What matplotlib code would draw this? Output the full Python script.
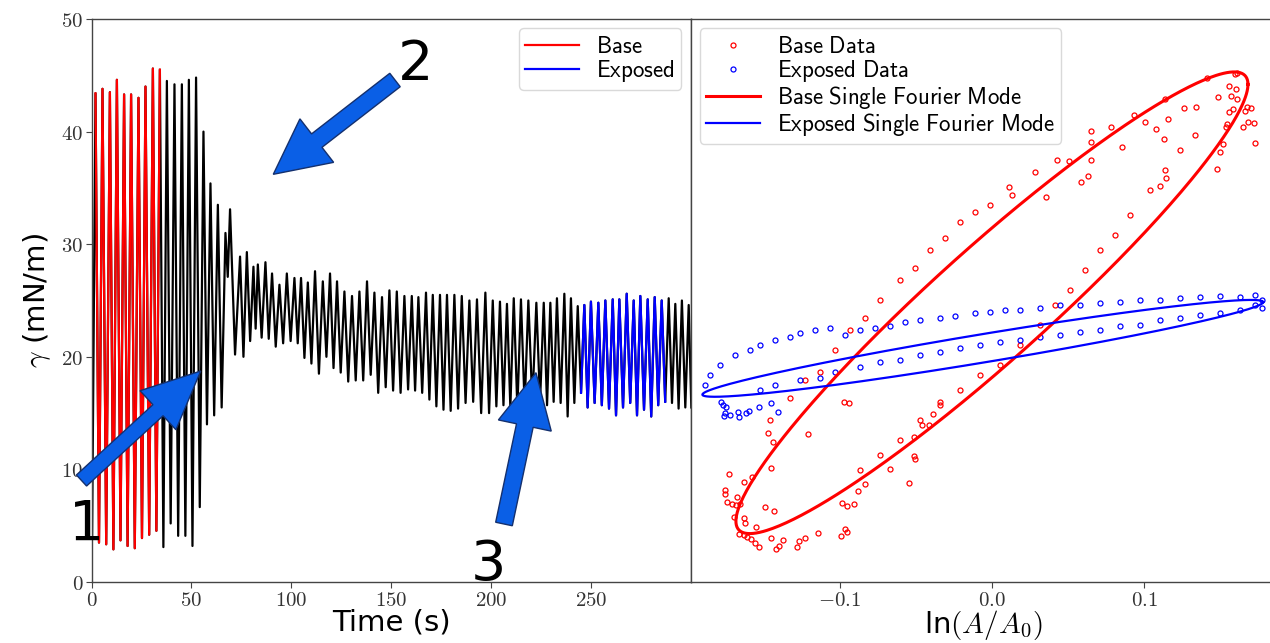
import numpy as np
import matplotlib
matplotlib.use('Agg')
import matplotlib.pyplot as plt
from matplotlib.patches import FancyArrow
from matplotlib.transforms import IdentityTransform

plt.rcParams['mathtext.fontset'] = 'cm'
plt.rcParams['font.family'] = ['DejaVu Sans']

# ---------------- data: surface tension time series (peaks / troughs) ----------------
peak_times = [2.0, 5.5, 9.2, 12.7, 16.3, 19.8, 23.5, 27.0, 30.7, 34.2,
              37.7, 41.5, 45.2, 48.7, 52.3, 56.0, 59.5, 63.2, 67.0, 69.3,
              74.3, 77.7, 81.0, 83.2, 87.0, 90.3, 94.0, 97.7, 101.5, 104.8,
              108.2, 111.8, 115.7, 119.3, 122.8, 126.5, 130.3, 134.0, 137.8, 141.5,
              145.3, 149.0, 152.7, 156.5, 160.2, 163.5, 167.3, 170.7, 174.3, 177.8,
              181.5, 185.2, 189.0, 192.8, 197.0, 200.7, 204.3, 207.8, 211.2, 214.8,
              218.5, 222.5, 226.2, 229.5, 232.8, 236.5, 239.8, 243.2, 246.5, 249.8,
              253.5, 257.0, 260.7, 264.0, 267.7, 271.2, 274.5, 278.2, 281.7, 285.2,
              288.7, 292.0, 295.3, 298.7]
peak_values = [43.4, 43.8, 43.5, 44.6, 43.3, 43.3, 43.0, 44.0, 45.6, 45.5,
               44.5, 44.2, 44.2, 44.6, 44.8, 40.0, 35.4, 33.5, 31.0, 33.1,
               28.9, 29.3, 28.0, 28.2, 28.4, 27.4, 26.4, 27.4, 27.0, 27.0,
               26.6, 27.6, 26.7, 27.4, 26.7, 25.8, 25.4, 25.8, 26.7, 25.7,
               25.3, 25.9, 25.8, 25.4, 25.4, 25.3, 25.7, 25.5, 25.5, 25.5,
               25.5, 25.4, 25.0, 25.1, 25.7, 25.0, 24.9, 24.7, 25.2, 25.1,
               25.0, 24.8, 24.8, 24.8, 25.2, 25.6, 25.2, 24.5, 24.6, 24.9,
               24.8, 25.0, 25.1, 25.1, 25.6, 25.0, 25.4, 25.1, 25.3, 25.0,
               25.2, 24.7, 25.0, 24.6]
trough_values = [3.5, 3.35, 2.9, 3.7, 3.2, 3.0, 3.9, 4.2, 4.55, 3.1,
                 5.2, 4.1, 4.1, 3.2, 6.65, 14.0, 14.8, 15.5, 27.1, 20.2,
                 20.0, 21.4, 22.5, 21.7, 21.6, 20.9, 21.2, 21.4, 21.2, 19.9,
                 19.4, 18.5, 20.0, 19.0, 18.6, 17.8, 17.9, 17.9, 18.4, 16.8,
                 17.3, 17.0, 16.8, 17.1, 17.0, 16.8, 16.2, 15.6, 15.3, 15.2,
                 15.4, 15.9, 16.0, 15.0, 15.0, 15.6, 15.7, 15.5, 15.4, 15.6,
                 15.9, 16.0, 15.7, 16.0, 15.9, 14.7, 15.9, 16.8, 15.5, 15.9,
                 15.7, 15.4, 14.8, 15.5, 15.9, 14.8, 15.3, 14.7, 15.7, 16.0,
                 15.9, 15.4, 15.5]
start_point = (0.3, 4.0)
end_point = (300.0, 15.5)
base_window = (1.0, 35.0)
exposed_window = (244.5, 287.2)

# ---------------- data: gamma vs ln(A/A0) ----------------
base_x = [0.1409, 0.1594, 0.1610, 0.1557, 0.1601, 0.1566, 0.1610, 0.1485, 0.1671, 0.1698,
          0.1660, 0.1583, 0.1557, 0.1682, 0.1719, 0.1645, 0.1540, 0.1535, 0.1726, 0.1514,
          0.1496, 0.1478, 0.1337, 0.1260, 0.1135, 0.1153, 0.1076, 0.1129, 0.1004, 0.0934,
          0.0851, 0.0781, 0.0648, 0.0650, 0.0648, 0.0507, 0.0428, 0.0632, 0.0582, 0.0282,
          0.0114, 0.0129, 0.0352, 0.1142, 0.1102,
          -0.1472, -0.1210, -0.1436, -0.1452, -0.1727, -0.1574, -0.1630, -0.1751, -0.1751, -0.1671,
          -0.1739, -0.1703, -0.1678, -0.1654, -0.1491, -0.1433, -0.1690, -0.1630, -0.1622, -0.1545,
          -0.1661, -0.1630, -0.1606, -0.1581, -0.1557, -0.1528, -0.1452, -0.1399, -0.1419, -0.1370,
          -0.1278, -0.1266, -0.1224, -0.1144, -0.0991, -0.0962, -0.0950, -0.0986, -0.0950, -0.0902,
          -0.0877, -0.0833, -0.0671, -0.0545, -0.0513, -0.0506, -0.0513, -0.0457, -0.0416, -0.0386,
          -0.0343, -0.0974, -0.0938,
          -0.1457, -0.1325, -0.1227, -0.1129, -0.1030, -0.0932, -0.0833, -0.0735, -0.0604, -0.0505,
          -0.0407, -0.0308, -0.0210, -0.0112, -0.0013,
          -0.0866, -0.0735, -0.0604, -0.0472, -0.0341, -0.0210, -0.0079, 0.0052, 0.0184, 0.0315,
          0.0413, 0.0512, 0.0610, 0.0709, 0.0807, 0.0906, 0.1037, 0.1135, 0.1234, 0.1332]
base_y = [44.73, 45.12, 45.18, 44.05, 43.76, 43.19, 42.90, 43.10, 42.21, 42.07,
          41.83, 41.98, 41.77, 40.88, 40.74, 40.44, 40.67, 40.44, 39.01, 38.90,
          38.16, 36.68, 42.21, 42.12, 42.90, 41.12, 40.20, 39.34, 40.83, 41.47,
          38.66, 40.38, 40.05, 39.05, 37.48, 37.39, 37.48, 36.08, 35.55, 36.44,
          35.11, 34.37, 34.17, 35.85, 35.20,
          13.26, 13.14, 12.40, 10.10, 9.59, 9.35, 8.91, 8.17, 7.82, 7.58,
          7.13, 6.90, 6.84, 6.90, 6.63, 6.31, 5.74, 5.65, 5.21, 4.91,
          4.24, 4.17, 4.02, 3.79, 3.49, 3.14, 3.88, 3.22, 2.93, 3.73,
          3.08, 3.64, 3.93, 4.32, 4.09, 4.68, 4.47, 7.04, 6.75, 6.93,
          8.05, 8.70, 10.06, 8.77, 11.19, 10.90, 12.85, 13.94, 13.92, 14.92,
          16.01, 16.01, 15.92,
          14.39, 16.34, 17.94, 18.65, 20.60, 22.38, 23.45, 25.04, 26.82, 27.89,
          29.48, 30.55, 31.97, 32.86, 33.48,
          9.95, 11.28, 12.61, 14.39, 15.72, 17.05, 18.38, 19.27, 21.05, 22.82,
          24.60, 25.93, 27.71, 29.48, 30.82, 32.59, 34.81, 36.59, 38.37, 39.70]

exposed_x = [-0.1776, -0.1763, -0.1744, -0.1751, -0.1719, -0.1759, -0.1666, -0.1659, -0.1617, -0.1593,
             -0.1528, -0.1452, -0.1404,
             -0.1883, -0.1850, -0.1785, -0.1686, -0.1588, -0.1522, -0.1424, -0.1325, -0.1260, -0.1161,
             -0.1063, -0.0965, -0.0866, -0.0768, -0.0669, -0.0571, -0.0472, -0.0341, -0.0243, -0.0112,
             -0.0013, 0.0085, 0.0184, 0.0315, 0.0446, 0.0577, 0.0709, 0.0840, 0.0971, 0.1102,
             0.1234, 0.1365, 0.1496, 0.1627, 0.1726, 0.1772, 0.1772,
             -0.1522, -0.1424, -0.1260, -0.1129, -0.1030, -0.0866, -0.0735, -0.0604, -0.0472, -0.0341,
             -0.0210, -0.0079, 0.0052, 0.0184, 0.0315, 0.0446, 0.0577, 0.0709, 0.0840, 0.0971,
             0.1102, 0.1234, 0.1365, 0.1496, 0.1627, 0.1726]
exposed_y = [16.00, 15.72, 15.57, 15.04, 14.83, 14.74, 15.12, 14.68, 15.04, 15.21,
             15.51, 15.92, 15.12,
             17.50, 18.38, 19.27, 20.16, 20.60, 21.05, 21.49, 21.76, 22.11, 22.38,
             22.56, 21.94, 22.38, 22.56, 22.74, 23.09, 23.27, 23.45, 23.62, 23.89,
             23.98, 24.16, 24.16, 24.33, 24.60, 24.60, 24.78, 24.87, 25.04, 25.04,
             25.22, 25.31, 25.40, 25.31, 25.49, 25.04, 24.33,
             17.05, 17.50, 17.94, 18.12, 18.65, 19.09, 19.54, 19.72, 20.16, 20.43,
             20.78, 21.05, 21.31, 21.49, 21.76, 21.94, 22.20, 22.38, 22.74, 22.82,
             23.27, 23.45, 23.71, 23.89, 24.16, 24.60]

# single Fourier mode fits: x = x0 + ax*cos(th), g = g0 + ag*cos(th - phase)
base_fit = {'x0': 0.0, 'ax': 0.168, 'g0': 24.8, 'ag': 20.5, 'phase': 0.33}
exposed_fit = {'x0': -0.006, 'ax': 0.184, 'g0': 20.75, 'ag': 4.3, 'phase': 0.30}

time_ticks = [0, 50, 100, 150, 200, 250]
gamma_ticks = [0, 10, 20, 30, 40, 50]
lnA_ticks = [-0.1, 0.0, 0.1]

# ---------------- build time series ----------------
ts = [start_point[0]]
gs = [start_point[1]]
for k in range(len(peak_times)):
    ts.append(peak_times[k]); gs.append(peak_values[k])
    if k < len(trough_values):
        ts.append(0.5 * (peak_times[k] + peak_times[k + 1])); gs.append(trough_values[k])
ts.append(end_point[0]); gs.append(end_point[1])
ts = np.array(ts); gs = np.array(gs)

W, H = 1270, 643
fig = plt.figure(figsize=(W / 100, H / 100), dpi=100)
ax1 = fig.add_axes([91.5 / W, 61 / H, 599 / W, 563 / H])
ax2 = fig.add_axes([690.5 / W, 61 / H, (1276 - 690.5) / W, 563 / H])

ax1.plot(ts, gs, color='black', lw=1.6, zorder=2)
m = (ts >= base_window[0]) & (ts <= base_window[1])
ax1.plot(ts[m], gs[m], color='red', lw=1.6, label=r'$\mathsf{Base}$', zorder=3)
m = (ts >= exposed_window[0]) & (ts <= exposed_window[1])
ax1.plot(ts[m], gs[m], color='blue', lw=1.6, label=r'$\mathsf{Exposed}$', zorder=3)

ax1.set_xlim(0, 299.6)
ax1.set_ylim(0, 50)
ax1.set_xticks(time_ticks)
ax1.set_xticklabels([f'${v}$' for v in time_ticks])
ax1.set_yticks(gamma_ticks)
ax1.set_yticklabels([f'${v}$' for v in gamma_ticks])
ax1.set_xlabel('Time (s)', fontsize=21, labelpad=-1)
ax1.set_ylabel(r'$\gamma$ (mN/m)', fontsize=21, labelpad=6)
leg_kw = dict(fontsize=16.5, handlelength=2.35, handletextpad=0.75, framealpha=0.8,
              edgecolor='#d0d0d0', borderaxespad=0.4, labelspacing=0.0, borderpad=0.28)
ax1.legend(loc='upper right', **leg_kw)

th = np.linspace(0, 2 * np.pi, 400)
h_bd, = ax2.plot(base_x, base_y, 'o', ms=3.6, mfc='none', mec='red', mew=0.9, ls='none')
h_ed, = ax2.plot(exposed_x, exposed_y, 'o', ms=3.6, mfc='none', mec='blue', mew=0.9, ls='none')
f = base_fit
h_bf, = ax2.plot(f['x0'] + f['ax'] * np.cos(th), f['g0'] + f['ag'] * np.cos(th - f['phase']),
                 color='red', lw=2.2)
f = exposed_fit
h_ef, = ax2.plot(f['x0'] + f['ax'] * np.cos(th), f['g0'] + f['ag'] * np.cos(th - f['phase']),
                 color='blue', lw=1.6)
ax2.set_xlim(-0.1978, 0.1864)
ax2.set_ylim(0, 50)
ax2.set_yticks([])
ax2.set_xticks(lnA_ticks)
ax2.set_xticklabels([r'$-0.1$', r'$0.0$', r'$0.1$'])
ax2.set_xlabel(r'ln$(A/A_0)$', fontsize=21, labelpad=-1.5)
ax2.legend([h_bd, h_ed, h_bf, h_ef],
           [r'$\mathsf{Base\ Data}$', r'$\mathsf{Exposed\ Data}$',
            r'$\mathsf{Base\ Single\ Fourier\ Mode}$', r'$\mathsf{Exposed\ Single\ Fourier\ Mode}$'],
           loc='upper left', bbox_to_anchor=(0, 1), **leg_kw)

for ax in (ax1, ax2):
    for s in ax.spines.values():
        s.set_color('#444444'); s.set_linewidth(1.0)
    ax.tick_params(direction='out', length=4, width=0.8, color='#444444',
                   labelsize=15, labelcolor='#333333', pad=2)

# ---------------- annotation arrows and numbers (pixel coordinates) ----------------
def arrow(tail, tip, w, hw, hl):
    x0, y0 = tail[0], H - tail[1]
    x1, y1 = tip[0], H - tip[1]
    a = FancyArrow(x0, y0, x1 - x0, y1 - y0, width=w, head_width=hw, head_length=hl,
                   length_includes_head=True, transform=IdentityTransform(),
                   facecolor='#0a5fe6', edgecolor='#14306e', lw=1.0, zorder=10)
    fig.add_artist(a)

arrow((81.5, 480.5), (200.7, 371.0), 15, 53, 58)
arrow((395.0, 80.0), (273.3, 174.3), 17, 55, 55)
arrow((504.0, 524.0), (536.0, 372.7), 17, 54, 54)

for txt, (px, py) in [('1', (87, 525)), ('2', (416, 65)), ('3', (488, 565))]:
    fig.text(px / W, 1 - py / H, txt, fontsize=40, ha='center', va='center', color='black',
             zorder=11)

fig.savefig('out.png', dpi=100)
